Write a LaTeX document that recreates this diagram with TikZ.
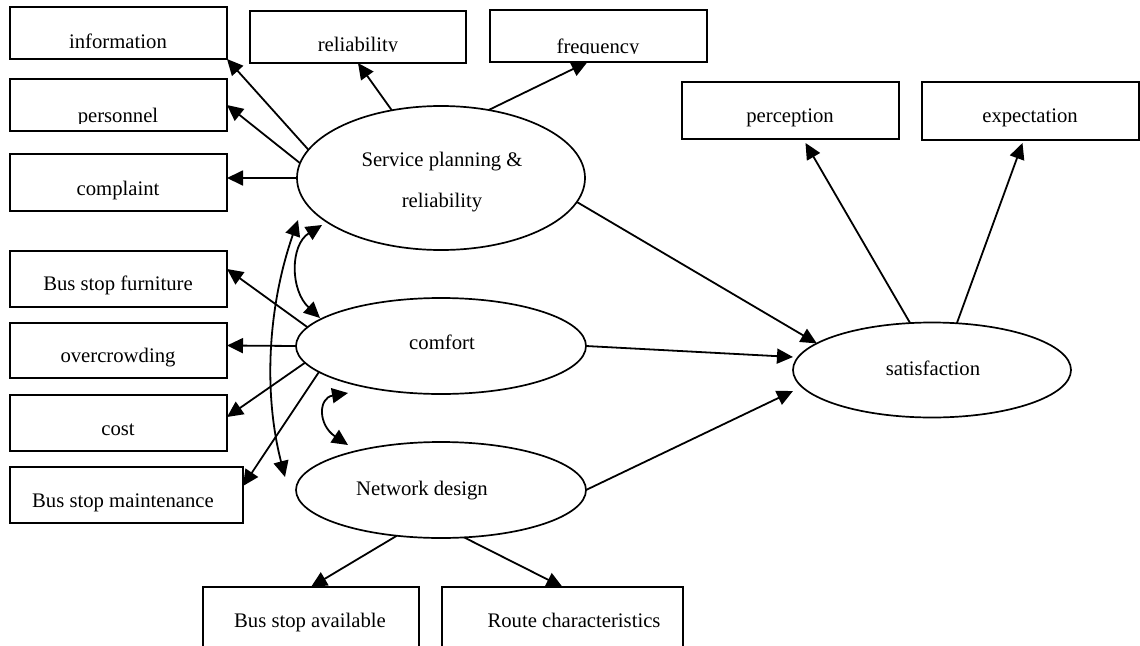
\documentclass[tikz,border=0pt]{standalone}
\usepackage{fontspec}
\setmainfont{Liberation Serif}
\usetikzlibrary{arrows.meta,shapes.geometric}
\begin{document}
\begin{tikzpicture}[x=1pt,y=-1pt,
  box/.style={draw, line width=1.7pt, inner sep=0pt, outer sep=0pt},
  ell/.style={draw, ellipse, line width=1.7pt, inner sep=0pt, outer sep=0pt},
  txt/.style={anchor=base, inner sep=0pt, font=\fontsize{20.7pt}{24pt}\selectfont},
  tip/.style={Triangle[length=16pt,width=15pt]},
  arr/.style={line width=1.8pt, -{Triangle[length=16pt,width=15pt]}},
  darr/.style={line width=1.8pt, {Triangle[length=16pt,width=15pt]}-{Triangle[length=16pt,width=15pt]}}]
\useasboundingbox (0,0) rectangle (1140,645);

% indicator boxes
\node[box, minimum width=217, minimum height=52] (info)  at (118.5,33)    {};
\node[box, minimum width=217, minimum height=52] (pers)  at (118.5,105)   {};
\node[box, minimum width=217, minimum height=57] (comp)  at (118.5,182.5) {};
\node[box, minimum width=216, minimum height=52] (rel)   at (358,37)      {};
\node[box, minimum width=217, minimum height=52] (freq)  at (598.5,36)    {};
\node[box, minimum width=217, minimum height=57] (perc)  at (790.5,110.5) {};
\node[box, minimum width=217, minimum height=58] (expc)  at (1030.5,111)  {};
\node[box, minimum width=217, minimum height=56] (furn)  at (118.5,279)   {};
\node[box, minimum width=217, minimum height=55] (over)  at (118.5,350.5) {};
\node[box, minimum width=217, minimum height=56] (cost)  at (118.5,423)   {};
\node[box, minimum width=233, minimum height=56] (maint) at (126.5,495)   {};
\node[box, minimum width=216, minimum height=68] (bsa)   at (311,621)     {};
\node[box, minimum width=241, minimum height=68] (route) at (562.5,621)   {};

% latent variables
\node[ell, minimum width=288, minimum height=144] (svc)  at (441,178) {};
\node[ell, minimum width=290, minimum height=96]  (comf) at (441,346) {};
\node[ell, minimum width=290, minimum height=96]  (net)  at (441,490) {};
\node[ell, minimum width=278, minimum height=95]  (sat)  at (932,370) {};

% labels
\node[txt] (info-t) at (118,48) {information};
\begin{scope}
  \clip (10,79) rectangle (227,123.5);
  \node[txt] (pers-t) at (118,122) {personnel};
\end{scope}
\node[txt] (comp-t) at (118,195) {complaint};
\begin{scope}
  \clip (250,11) rectangle (466,51.5);
  \node[txt] (rel-t) at (358,51) {reliability};
\end{scope}
\begin{scope}
  \clip (490,10) rectangle (707,53.5);
  \node[txt] (freq-t) at (598,53) {frequency};
\end{scope}
\node[txt] (perc-t)  at (790,122)  {perception};
\node[txt] (expc-t)  at (1030,122) {expectation};
\node[txt] (furn-t)  at (118,290)  {Bus stop furniture};
\node[txt] (over-t)  at (118,362)  {overcrowding};
\node[txt] (cost-t)  at (118,435)  {cost};
\node[txt] (maint-t) at (123,507)  {Bus stop maintenance};
\node[txt] (bsa-t)   at (310,627)  {Bus stop available};
\node[txt] (route-t) at (574,627)  {Route characteristics};
\node[txt] (svc-t1)  at (442,166)  {Service planning \&};
\node[txt] (svc-t2)  at (442,207)  {reliability};
\node[txt] (comf-t)  at (442,349)  {comfort};
\node[txt] (net-t)   at (422,495)  {Network design};
\node[txt] (sat-t)   at (933,375)  {satisfaction};

% service planning & reliability
\draw[arr] (svc.168.4) -- (info.south east);
\draw[arr] (svc.174) -- (pers.east);
\draw[arr] (svc.180) -- (svc.180 -| comp.east);
\draw[arr] (svc.126.4) -- (rel.south);
\draw[arr] (svc.55.8) -- ([xshift=-11pt]freq.south);
\draw[arr] (svc.-10) -- (sat.167.5);

% comfort
\draw[arr] (comf.172.9) -- ([yshift=10pt]furn.east);
\draw[arr] (comf.180) -- ([yshift=5pt]over.east);
\draw[arr] (comf.187.1) -- ([yshift=6pt]cost.east);
\draw[arr] (comf.192.3) -- ([yshift=9pt]maint.east);
\draw[arr] (comf.0) -- ([yshift=13pt]sat.west);

% network design
\draw[arr] (net.0) -- ([yshift=-21pt]sat.west);
\draw[arr] (net.226.2) -- (bsa.north);
\draw[arr] (net.296.6) -- (route.north);

% satisfaction
\draw[arr] (sat.115) -- ([xshift=15pt,yshift=-4pt]perc.south);
\draw[arr] (sat.62) -- ([xshift=-8pt,yshift=-3pt]expc.south);

% correlations between the latent variables
\coordinate (lt) at (298,220);
\coordinate (lb) at (285,477);
\draw[darr] (lt) .. controls (267.7,307) and (263.3,393) .. (lb);
\coordinate (mt) at (322,225);
\coordinate (mb) at (320,318);
\draw[darr] (mt) .. controls (290,245) and (290,290) .. (mb);
\coordinate (nt) at (348,393);
\coordinate (nb) at (348,445);
\draw[darr] (nt) .. controls (318,398) and (318,425) .. (nb);
\end{tikzpicture}
\end{document}
